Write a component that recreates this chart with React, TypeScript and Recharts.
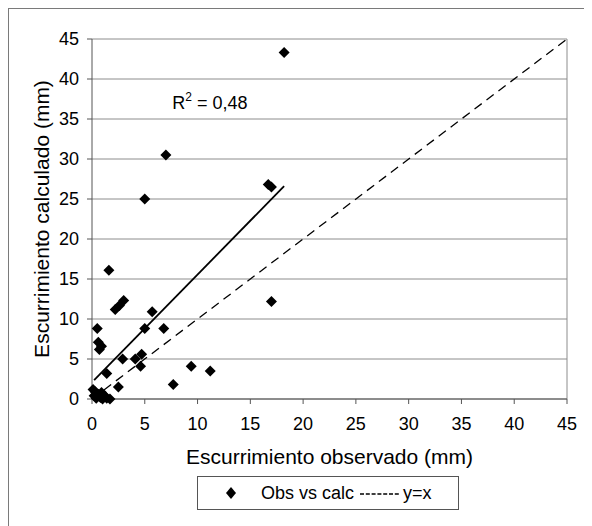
import {
  ScatterChart,
  Scatter,
  XAxis,
  YAxis,
  CartesianGrid,
  ReferenceLine,
} from "recharts";

const FONT = "'Liberation Sans', Arial, sans-serif";

// observado (mm) vs calculado (mm)
const observado = [
  18.2, 7.0, 5.0, 16.7, 17.0, 17.0, 1.6, 2.2, 2.6, 3.0, 5.7, 0.5, 5.0, 6.8, 0.6,
  0.9, 0.7, 2.9, 4.1, 4.7, 4.6, 9.4, 11.2, 1.4, 2.5, 7.7, 0.1, 0.2, 0.4, 0.6,
  0.8, 1.0, 1.2, 1.4, 1.7, 0.3, 0.9,
];
const calculado = [
  43.3, 30.5, 25.0, 26.8, 26.5, 12.2, 16.1, 11.2, 11.7, 12.3, 10.9, 8.8, 8.8,
  8.8, 7.1, 6.6, 6.2, 5.0, 5.0, 5.6, 4.1, 4.1, 3.5, 3.2, 1.5, 1.8, 1.2, 0.4,
  0.1, 0.6, 0.2, 0.0, 0.4, 0.1, 0.0, 0.9, 0.8,
];

// linear trendline ends (min x .. max x)
const trendX = [0.2, 18.2];
const trendY = [2.35, 26.6];

// y = x reference
const identityX = [0, 45];
const identityY = [0, 45];

const ticks = [0, 5, 10, 15, 20, 25, 30, 35, 40, 45];

const r2Label = { x: 7.6, y: 36.3, text: "0,48" };

const points = observado.map((x, i) => ({ x, y: calculado[i] }));
const trend = trendX.map((x, i) => ({ x, y: trendY[i] }));
const identity = identityX.map((x, i) => ({ x, y: identityY[i] }));

const Diamond = (props: any) => {
  const { cx, cy } = props;
  const s = 5.5;
  return (
    <polygon
      points={`${cx},${cy - s} ${cx + s},${cy} ${cx},${cy + s} ${cx - s},${cy}`}
      fill="#000"
    />
  );
};

const NoShape = () => <g />;

const R2Text = (props: any) => (
  <text x={props.cx} y={props.cy} fontFamily={FONT} fontSize={18} fill="#000">
    R
    <tspan fontSize={12} dy={-8}>
      2
    </tspan>
    <tspan dy={8}> = {r2Label.text}</tspan>
  </text>
);

const XTitle = (props: any) => {
  const { x, width } = props.viewBox;
  return (
    <text
      x={x + width / 2}
      y={456}
      textAnchor="middle"
      fontFamily={FONT}
      fontSize={21}
      fill="#000"
    >
      Escurrimiento observado (mm)
    </text>
  );
};

const YTitle = (props: any) => {
  const { y, height } = props.viewBox;
  const cy = y + height / 2;
  return (
    <text
      x={41}
      y={cy}
      transform={`rotate(-90, 41, ${cy})`}
      textAnchor="middle"
      fontFamily={FONT}
      fontSize={21}
      fill="#000"
    >
      Escurrimiento calculado (mm)
    </text>
  );
};

export default function App() {
  return (
    <div style={{ position: "relative", width: 584, height: 518 }}>
      <ScatterChart
        width={584}
        height={518}
        margin={{ top: 31, right: 25, left: 0, bottom: 97 }}
      >
        <CartesianGrid vertical={false} stroke="#8c8c8c" />
        <ReferenceLine x={45} stroke="#8c8c8c" />
        <XAxis
          type="number"
          dataKey="x"
          domain={[0, 45]}
          ticks={ticks}
          height={30}
          stroke="#555"
          tickSize={5}
          tickMargin={13}
          tick={{ fill: "#000", fontSize: 18, fontFamily: FONT }}
          label={<XTitle />}
        />
        <YAxis
          type="number"
          dataKey="y"
          domain={[0, 45]}
          ticks={ticks}
          width={84}
          stroke="#555"
          tickSize={5}
          tickMargin={8}
          tick={{ fill: "#000", fontSize: 18, fontFamily: FONT }}
          label={<YTitle />}
        />
        <Scatter
          data={identity}
          line={{ stroke: "#000", strokeWidth: 1.3, strokeDasharray: "9 6" }}
          shape={NoShape}
          isAnimationActive={false}
        />
        <Scatter
          data={trend}
          line={{ stroke: "#000", strokeWidth: 1.8 }}
          shape={NoShape}
          isAnimationActive={false}
        />
        <Scatter data={points} shape={Diamond} isAnimationActive={false} />
        <Scatter
          data={[{ x: r2Label.x, y: r2Label.y }]}
          shape={R2Text}
          isAnimationActive={false}
        />
      </ScatterChart>
      <div
        style={{
          position: "absolute",
          left: 189,
          top: 468,
          width: 262,
          height: 34,
          boxSizing: "border-box",
          border: "1px solid #555",
          fontFamily: FONT,
          fontSize: 18,
          display: "flex",
          alignItems: "center",
        }}
      >
        <svg width={12} height={14} style={{ marginLeft: 27 }}>
          <polygon points="6,1 11,7 6,13 1,7" fill="#000" />
        </svg>
        <span style={{ marginLeft: 24 }}>Obs vs calc</span>
        <svg width={40} height={10} style={{ marginLeft: 6 }}>
          <line
            x1={0}
            y1={6}
            x2={40}
            y2={6}
            stroke="#000"
            strokeWidth={1.3}
            strokeDasharray="4 1.8"
          />
        </svg>
        <span style={{ marginLeft: 3 }}>y=x</span>
      </div>
      <div
        style={{
          position: "absolute",
          left: -1,
          top: -1,
          width: 584,
          height: 518,
          borderLeft: "2px solid #7a7a7a",
          borderTop: "2px solid #7a7a7a",
          pointerEvents: "none",
        }}
      />
    </div>
  );
}
